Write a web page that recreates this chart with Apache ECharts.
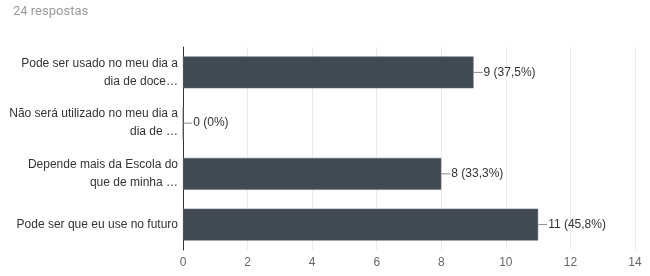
<!DOCTYPE html>
<html><head><meta charset="utf-8">
<script src="https://cdn.jsdelivr.net/npm/echarts@6/dist/echarts.min.js"></script>
<style>html,body{margin:0;padding:0;background:#fff}#c{width:650px;height:276px}</style>
</head><body><div id="c"></div>
<script>
const title = '24 respostas';
const categories = [
  'Pode ser usado no meu dia a\ndia de doce…',
  'Não será utilizado no meu dia a\ndia de …',
  'Depende mais da Escola do\nque de minha …',
  'Pode ser que eu use no futuro'
];
const counts = [9, 0, 8, 11];
const percents = ['37,5%', '0%', '33,3%', '45,8%'];
const xTicks = [0, 2, 4, 6, 8, 10, 12, 14];

const chart = echarts.init(document.getElementById('c'));
chart.setOption({
  animation: false,
  title: { text: title, left: 8, top: 0, textStyle: { fontFamily: 'Roboto, Arial', fontSize: 13, fontWeight: 'normal', color: '#9a9a9a' } },
  grid: { left: 183, right: 15, top: 47, bottom: 26 },
  xAxis: {
    type: 'value', min: xTicks[0], max: xTicks[xTicks.length - 1], interval: 2,
    axisLine: { show: false }, axisTick: { show: false },
    splitLine: { lineStyle: { color: '#ebebeb' } },
    axisLabel: { color: '#666', fontSize: 12, fontFamily: 'Arial', margin: 7 }
  },
  yAxis: {
    type: 'category', data: categories, inverse: true,
    axisLine: { lineStyle: { color: '#333' } }, axisTick: { show: false },
    axisLabel: { color: '#333', fontSize: 12, fontFamily: 'Arial', lineHeight: 18, margin: 5, align: 'right' }
  },
  series: [{
    type: 'bar', data: counts, barCategoryGap: '37%',
    itemStyle: { color: '#414a52', borderColor: '#6b737a', borderWidth: 0.5 },
    label: {
      show: true, position: 'right', distance: 0,
      formatter: p => '{l|}{t|' + p.value + ' (' + percents[p.dataIndex] + ')}',
      rich: {
        l: { width: 9, height: 1, backgroundColor: '#888' },
        t: { color: '#333', fontSize: 12, fontFamily: 'Arial', padding: [0, 0, 0, 1] }
      }
    }
  }]
});
</script></body></html>
